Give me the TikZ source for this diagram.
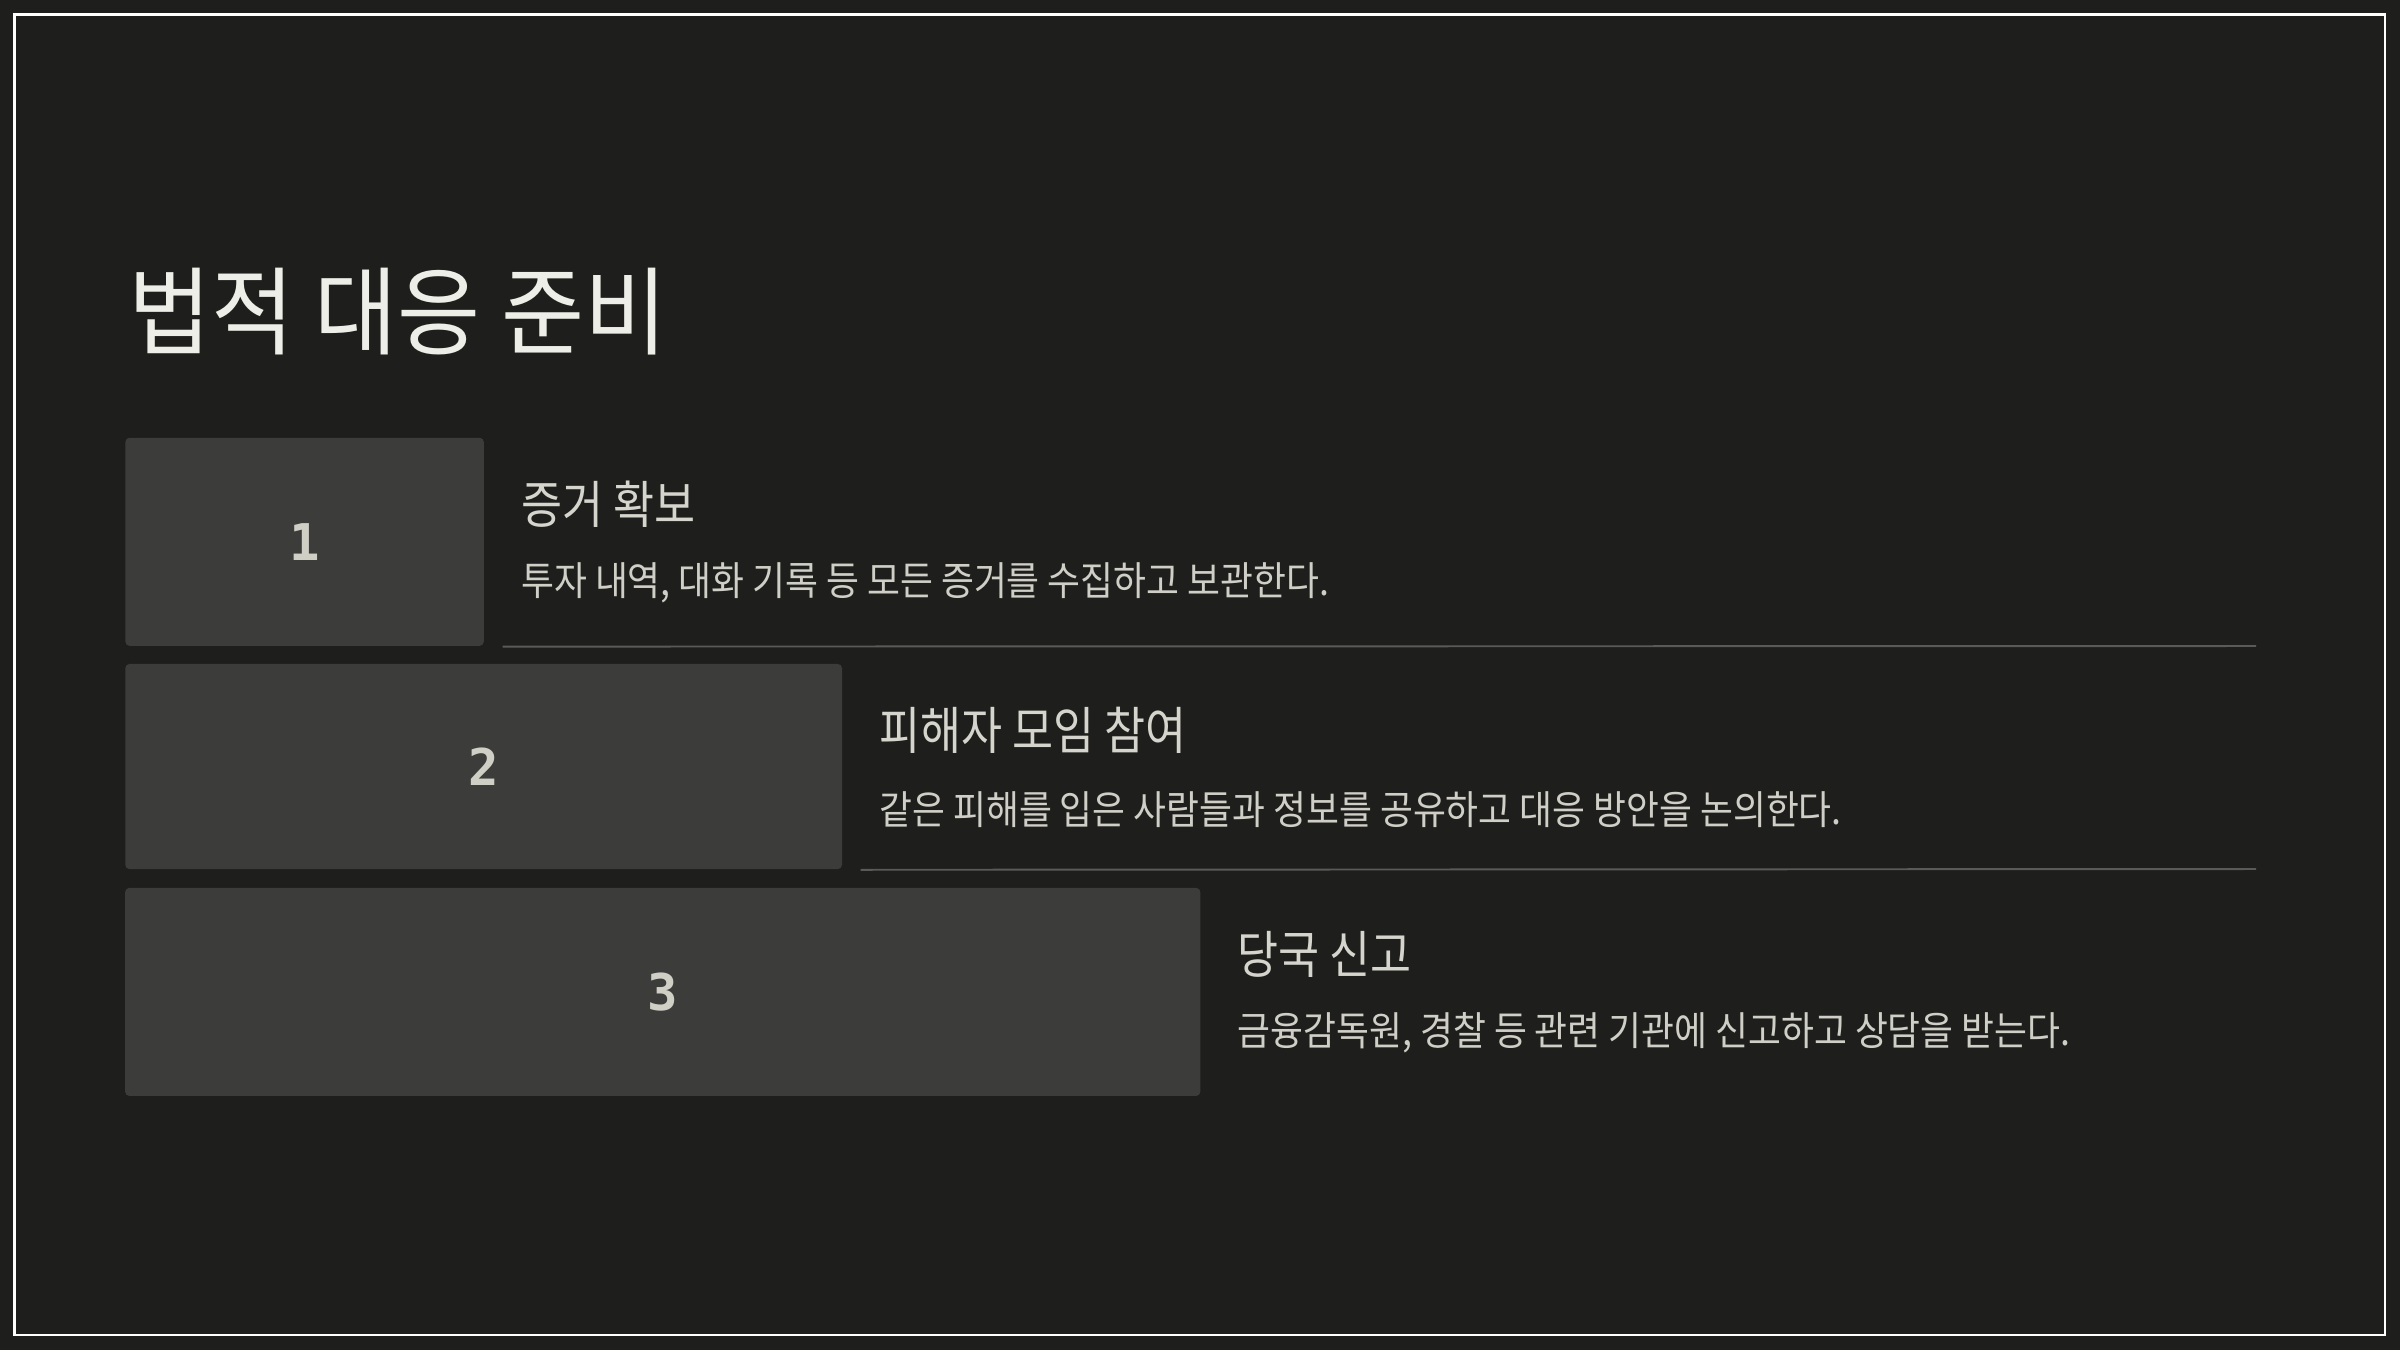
\documentclass[tikz,border=0pt]{standalone}
\usepackage{fontspec}
\usetikzlibrary{calc}
\newfontfamily\krtitle[FakeStretch=0.94]{Noto Sans CJK KR}
\newfontfamily\krhead[FakeStretch=0.875]{Noto Sans CJK KR}
\newfontfamily\krdesc[FakeStretch=0.90]{Noto Sans CJK KR}
\newfontfamily\nummono{DejaVu Sans Mono}
\definecolor{bgc}{HTML}{1E1E1C}
\definecolor{boxc}{HTML}{3C3C3B}
\definecolor{titlec}{HTML}{EEEEE8}
\definecolor{headc}{HTML}{D6D5CD}
\definecolor{descc}{HTML}{D0CFC7}
\definecolor{numc}{HTML}{D0CFC6}
\definecolor{sepc}{HTML}{5A5A58}
\begin{document}
\begin{tikzpicture}[x=0.01cm,y=-0.01cm,
  numbox/.style={fill=boxc, rounded corners=1.2pt, inner sep=0pt, text=numc,
    font=\nummono\bfseries\fontsize{14.4pt}{16pt}\selectfont},
  headtxt/.style={anchor=west, inner sep=0pt, text=headc, font=\krhead\fontsize{14.5pt}{17pt}\selectfont},
  desctxt/.style={anchor=west, inner sep=0pt, text=descc, font=\krdesc\fontsize{11.3pt}{13pt}\selectfont},
  sepline/.style={draw=sepc, line width=0.55pt}]
\fill[bgc] (0,0) rectangle (2400,1350);
\useasboundingbox (0,0) rectangle (2400,1350);
\draw[white, line width=0.6pt] (14.5,14.5) rectangle (2385,1335);
\node[anchor=west, inner sep=0pt, text=titlec, font=\krtitle\fontsize{27.3pt}{32pt}\selectfont] (title) at (128,312) {법적 대응 준비};
\node[numbox, minimum width=3.582cm, minimum height=2.08cm] (b1) at (304.6,541.8) {1};
\node[numbox, minimum width=7.163cm, minimum height=2.05cm] (b2) at (483.65,766.5) {2};
\node[numbox, minimum width=10.745cm, minimum height=2.08cm] (b3) at (662.75,991.9) {3};
\node[headtxt] (h1) at ($(b1.north east)+(36,67)$) {증거 확보};
\node[desctxt] (d1) at ($(b1.north east)+(36,146)$) {투자 내역, 대화 기록 등 모든 증거를 수집하고 보관한다.};
\node[headtxt] (h2) at ($(b2.north east)+(36,67)$) {피해자 모임 참여};
\node[desctxt] (d2) at ($(b2.north east)+(36,146)$) {같은 피해를 입은 사람들과 정보를 공유하고 대응 방안을 논의한다.};
\node[headtxt] (h3) at ($(b3.north east)+(36,67)$) {당국 신고};
\node[desctxt] (d3) at ($(b3.north east)+(36,146)$) {금융감독원, 경찰 등 관련 기관에 신고하고 상담을 받는다.};
\coordinate (s1a) at ($(b1.south east)+(18,0)$);
\coordinate (s1b) at (2256,646);
\coordinate (s2a) at ($(b2.south east)+(18,0)$);
\coordinate (s2b) at (2256,869);
\draw[sepline] (s1a) -- (s1b);
\draw[sepline] (s2a) -- (s2b);
\end{tikzpicture}
\end{document}
